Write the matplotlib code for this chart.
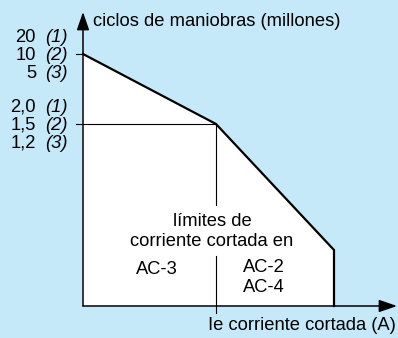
import matplotlib
matplotlib.use("Agg")
import matplotlib.pyplot as plt

# Schematic curve (units: px-like scale of the original drawing, origin at axis corner)
curva_x = [0, 133, 251, 251]
curva_y = [252, 182, 56, 0]
x_max = 315
y_max = 294

# Y labels: value text, note text, y position
etiquetas_num = ["20", "10", "5", "2,0", "1,5", "1,2"]
etiquetas_nota = ["(1)", "(2)", "(3)", "(1)", "(2)", "(3)"]
etiquetas_y = [269, 250, 232, 199, 181, 163]

BG = "#c6e9f9"
FONT = "Liberation Sans"
FS = 13.2

fig = plt.figure(figsize=(3.98, 3.38), dpi=100)
fig.patch.set_facecolor(BG)
ax = fig.add_axes([0, 0, 1, 1])
ax.set_facecolor(BG)
ax.set_xlim(-83, 315)
ax.set_ylim(-32, 306)
ax.axis("off")

# white region under the curve
ax.fill(curva_x + [0], curva_y + [0], color="white", zorder=1)
ax.plot(curva_x, curva_y, color="black", lw=1.6, zorder=3, solid_joinstyle="miter")

# guide lines
ax.plot([-7, 0], [curva_y[0], curva_y[0]], color="black", lw=0.8, zorder=2)
ax.plot([-7, curva_x[1]], [curva_y[1], curva_y[1]], color="black", lw=0.8, zorder=2)
ax.plot([curva_x[1], curva_x[1]], [curva_y[1], 101], color="black", lw=0.8, zorder=2)
ax.plot([curva_x[1], curva_x[1]], [50, -7], color="black", lw=0.8, zorder=2)

# axes with arrows
arrow = dict(arrowstyle="-|>,head_length=1.1,head_width=0.38", mutation_scale=10,
             color="black", lw=1.1, shrinkA=0, shrinkB=0)
ax.annotate("", xy=(x_max - 1, 0), xytext=(0, 0), arrowprops=arrow, zorder=4)
ax.annotate("", xy=(0, y_max), xytext=(0, 0), arrowprops=arrow, zorder=4)

ax.text(10, 284, "ciclos de maniobras (millones)", fontsize=FS, family=FONT,
        ha="left", va="center")
ax.text(125, -19, "Ie corriente cortada (A)", fontsize=FS, family=FONT,
        ha="left", va="center")

for num, nota, y in zip(etiquetas_num, etiquetas_nota, etiquetas_y):
    ax.text(-47, y, num, fontsize=FS, family=FONT, ha="right", va="center")
    ax.text(-38, y, nota, fontsize=FS, family=FONT, style="italic",
            ha="left", va="center")

ax.text(129, 84, "límites de", fontsize=FS, family=FONT, ha="center", va="center")
ax.text(129, 65, "corriente cortada en", fontsize=FS, family=FONT,
        ha="center", va="center")
ax.text(74, 36, "AC-3", fontsize=FS, family=FONT, ha="center", va="center")
ax.text(181, 38, "AC-2", fontsize=FS, family=FONT, ha="center", va="center")
ax.text(181, 18, "AC-4", fontsize=FS, family=FONT, ha="center", va="center")

fig.savefig("out.png", dpi=100, facecolor=BG)
